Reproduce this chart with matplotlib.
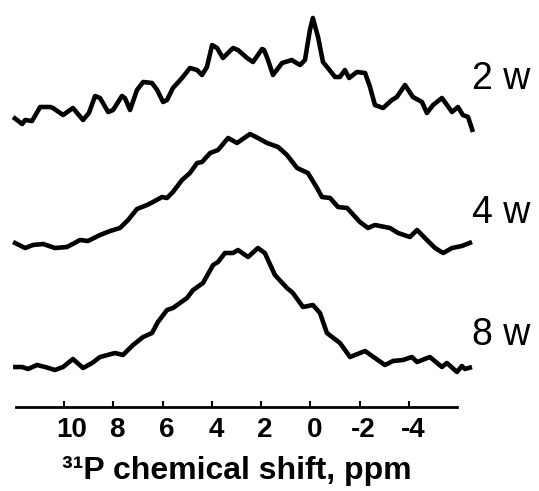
import matplotlib
matplotlib.use("Agg")
import matplotlib.pyplot as plt
import matplotlib.transforms as mtransforms

plt.rcParams['font.family'] = ['Liberation Sans', 'DejaVu Sans']
plt.rcParams['axes.unicode_minus'] = False

# ---- data (ppm, intensity in arbitrary units above each trace's baseline) ----
ppm_2w = [12.07, 11.70, 11.58, 11.30, 10.97, 10.57, 10.45, 10.04, 9.64, 9.23, 8.99, 8.74, 8.54, 8.21,
          8.01, 7.65, 7.53, 7.32, 7.04, 6.79, 6.43, 6.22, 5.98, 5.82, 5.58, 5.21, 4.89, 4.60, 4.40,
          4.20, 3.99, 3.79, 3.55, 3.14, 2.94, 2.57, 2.33, 1.96, 1.88, 1.72, 1.52, 1.15, 0.75, 0.63,
          0.42, 0.22, 0.02, -0.10, -0.31, -0.51, -0.71, -1.00, -1.20, -1.40, -1.57, -1.89, -2.22,
          -2.42, -2.62, -2.95, -3.31, -3.51, -3.84, -4.16, -4.53, -4.73, -4.98, -5.34, -5.75, -5.99,
          -6.19, -6.40, -6.60]
int_2w = [15, 8, 12, 11, 25, 25, 24, 17, 24, 12, 19, 36, 34, 20, 22, 36, 34, 22, 42, 50, 49, 42, 30,
          32, 44, 54, 64, 62, 57, 65, 87, 84, 74, 84, 82, 74, 70, 83, 82, 72, 57, 69, 72, 70, 67, 72,
          102, 114, 95, 70, 64, 55, 55, 62, 54, 60, 59, 45, 27, 24, 32, 35, 47, 35, 30, 19, 27, 34,
          20, 25, 17, 15, 0]

ppm_4w = [12.07, 11.58, 11.26, 10.85, 10.37, 9.88, 9.35, 9.03, 8.54, 8.13, 7.73, 7.40, 7.04, 6.63,
          6.39, 6.02, 5.82, 5.58, 5.21, 4.89, 4.60, 4.40, 4.07, 3.75, 3.34, 2.98, 2.45, 2.13, 1.76,
          1.31, 0.95, 0.54, 0.10, -0.27, -0.47, -0.80, -1.12, -1.49, -2.01, -2.34, -2.62, -3.23,
          -3.56, -4.04, -4.33, -4.65, -5.06, -5.39, -5.75, -6.15, -6.56]
int_4w = [11, 5, 8, 9, 5, 6, 13, 12, 18, 22, 25, 33, 44, 48, 51, 56, 55, 61, 73, 80, 90, 91, 100, 103,
          115, 110, 119, 115, 110, 106, 98, 85, 80, 65, 56, 55, 46, 45, 31, 25, 28, 25, 20, 16, 23,
          15, 5, 0, 5, 7, 11]

ppm_8w = [12.07, 11.70, 11.46, 11.10, 10.77, 10.37, 10.04, 9.64, 9.23, 8.86, 8.54, 7.93, 7.61, 7.20,
          6.79, 6.43, 6.19, 5.82, 5.58, 5.01, 4.76, 4.36, 3.95, 3.75, 3.47, 3.14, 2.94, 2.53, 2.13,
          1.85, 1.44, 0.95, 0.71, 0.30, -0.10, -0.39, -0.67, -1.20, -1.61, -2.22, -2.62, -3.03,
          -3.35, -3.76, -4.12, -4.33, -4.85, -5.34, -5.54, -5.95, -6.15, -6.27, -6.56]
int_8w = [5, 5, 3, 7, 5, 2, 5, 13, 4, 9, 15, 19, 17, 27, 35, 39, 50, 62, 64, 74, 82, 89, 107, 110,
          119, 119, 122, 115, 124, 119, 97, 84, 79, 65, 67, 59, 39, 29, 15, 21, 14, 7, 11, 12, 15,
          10, 15, 5, 9, 0, 6, 3, 5]

labels = ["2 w", "4 w", "8 w"]
offsets = [275, 154, 35]
label_y = [328, 194, 72]
tick_vals = [10, 8, 6, 4, 2, 0, -2, -4]
tick_labels = ["10", "8", "6", "4", "2", "0", "-2", "-4"]
xlabel = "³¹P chemical shift, ppm"

# ---- figure ----
fig = plt.figure(figsize=(5.39, 4.91), dpi=100)
ax = fig.add_axes([0, 84 / 491, 1, 1 - 84 / 491])

series = [(ppm_2w, int_2w), (ppm_4w, int_4w), (ppm_8w, int_8w)]
for (x, y), off, lab, ly in zip(series, offsets, labels, label_y):
    ax.plot(x, [v + off for v in y], color='black', lw=3.3, solid_joinstyle='round',
            solid_capstyle='butt')
    ax.text(-6.56, ly, lab, fontsize=27, ha='left', va='center', color='black')

ax.set_xlim(12.6, -9.28)
ax.set_ylim(0, 407)
for s in ['top', 'left', 'right']:
    ax.spines[s].set_visible(False)
ax.spines['bottom'].set_linewidth(2)
ax.spines['bottom'].set_bounds(-5.95, 11.95)
ax.set_yticks([])
ax.set_xticks(tick_vals)
ax.set_xticklabels(tick_labels, fontsize=20, fontweight='bold')
ax.tick_params(axis='x', direction='in', length=4, width=1.5, pad=7)
for i, t in enumerate(ax.get_xticklabels()):
    dx = 8 if i == 0 else 4
    t.set_transform(t.get_transform() +
                    mtransforms.ScaledTranslation(dx / 100, 0, fig.dpi_scale_trans))

fig.text(62 / 539, 12 / 491, xlabel, fontsize=23, fontweight='bold',
         ha='left', va='baseline')

fig.savefig("out.png", dpi=100)
